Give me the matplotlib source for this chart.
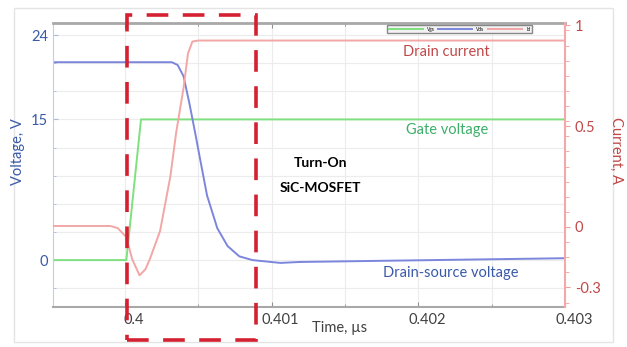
import matplotlib
matplotlib.use("Agg")
import matplotlib.pyplot as plt
import matplotlib.transforms as mtransforms
from matplotlib.patches import Rectangle
from matplotlib.ticker import MultipleLocator, FixedLocator

# time axis, microseconds
t_vgs = [0.39951, 0.40001, 0.40011, 0.403]
vgs = [0, 0, 15, 15]

t_vds = [0.39951, 0.40032, 0.40036, 0.40040, 0.40044, 0.40048, 0.40051, 0.40056,
         0.40063, 0.40070, 0.40078, 0.40087, 0.40106, 0.40119, 0.403]
vds = [21.1, 21.1, 20.8, 19.6, 16.7, 13.5, 11.0, 6.9,
       3.4, 1.5, 0.4, 0.0, -0.3, -0.2, 0.2]

t_id = [0.39951, 0.39990, 0.39995, 0.40001, 0.40005, 0.40010, 0.40014, 0.40017,
        0.40024, 0.40031, 0.40035, 0.40040, 0.40043, 0.40046, 0.40050, 0.403]
i_d = [0.005, 0.005, -0.005, -0.05, -0.16, -0.24, -0.21, -0.16,
       -0.02, 0.25, 0.47, 0.69, 0.86, 0.92, 0.925, 0.925]

x_ticks = [0.4, 0.401, 0.402, 0.403]
x_labels = ["0.4", "0.401", "0.402", "0.403"]
v_ticks = [0, 15, 24]
i_ticks = [-0.3, 0, 0.5, 1]
i_labels = ["-0.3", "0", "0.5", "1"]

BLUE = "#7b86dc"
GREEN = "#7fe07f"
RED = "#f2a6a6"
FS = 10.5

plt.rcParams["font.family"] = ["Lato", "DejaVu Sans"]


def main():
    fig = plt.figure(figsize=(6.27, 3.47), dpi=100)
    ax = fig.add_axes([0.0845, 0.1153, 0.8166, 0.8184])
    ax2 = ax.twinx()

    # faint frame round the whole picture
    fig.add_artist(Rectangle((14 / 627, 5 / 347), 599 / 627, 334 / 347,
                             transform=fig.transFigure, fill=False,
                             edgecolor="#e4e4e4", lw=1))

    ax.plot(t_vgs, vgs, color=GREEN, lw=1.4, label="Vgs")
    ax.plot(t_vds, vds, color=BLUE, lw=1.4, label="Vds")
    ax2.plot(t_id, i_d, color=RED, lw=1.4, label="Id")

    ax.set_xlim(0.39951, 0.403)
    ax.set_ylim(-5.0, 25.28)
    ax2.set_ylim(-0.397, 1.012)

    ax.xaxis.set_major_locator(FixedLocator(x_ticks))
    ax.set_xticklabels(x_labels)
    ax.xaxis.set_minor_locator(MultipleLocator(0.0005))
    ax.yaxis.set_major_locator(FixedLocator(v_ticks))
    ax.yaxis.set_minor_locator(MultipleLocator(3))
    ax2.yaxis.set_major_locator(FixedLocator(i_ticks))
    ax2.set_yticklabels(i_labels)
    ax2.yaxis.set_minor_locator(MultipleLocator(0.075))

    ax.grid(True, which="both", color="#ececec", lw=0.8)
    ax.set_axisbelow(True)

    ax.tick_params(axis="x", which="both", direction="in", top=True,
                   colors="#909090", labelcolor="#404040", labelsize=FS, pad=4)
    ax.tick_params(axis="y", which="both", direction="in",
                   colors="#b0b8d8", labelcolor="#3a5aa8", labelsize=FS)
    ax2.tick_params(axis="y", which="both", direction="out",
                    colors="#f0a0a0", labelcolor="#c04848", labelsize=FS)
    ax2.tick_params(axis="y", which="minor", length=3)

    offset = mtransforms.ScaledTranslation(9 / 100, 0, fig.dpi_scale_trans)
    for lab in ax.get_xticklabels():
        lab.set_transform(lab.get_transform() + offset)

    for s in ["top", "bottom"]:
        ax.spines[s].set_color("#a8a8a8")
        ax2.spines[s].set_visible(False)
    ax.spines["top"].set_linewidth(2)
    ax.spines["bottom"].set_linewidth(1.5)
    ax.spines["left"].set_color("#c8cce0")
    ax.spines["right"].set_visible(False)
    ax2.spines["left"].set_visible(False)
    ax2.spines["right"].set_color("#f4a8a8")
    ax2.spines["right"].set_linewidth(1.5)

    fig.text(18 / 627, 1 - 152 / 347, "Voltage, V", rotation=90, color="#3a5aa8",
             fontsize=FS, ha="center", va="center")
    fig.text(616 / 627, 1 - 150 / 347, "Current, A", rotation=270, color="#c04848",
             fontsize=FS, ha="center", va="center")
    fig.text(340 / 627, 1 - 328 / 347, "Time, \u00b5s", color="#404040",
             fontsize=FS, ha="center", va="center")

    fig.text(446 / 627, 1 - 52 / 347, "Drain current", color="#c04848",
             fontsize=FS, ha="center", va="center")
    fig.text(447 / 627, 1 - 130 / 347, "Gate voltage", color="#3cae6a",
             fontsize=FS, ha="center", va="center")
    fig.text(451 / 627, 1 - 273 / 347, "Drain-source voltage", color="#3a5aa8",
             fontsize=FS, ha="center", va="center")
    fig.text(321 / 627, 1 - 163 / 347, "Turn-On", color="black",
             fontsize=10, fontweight="bold", ha="center", va="center")
    fig.text(320 / 627, 1 - 188 / 347, "SiC-MOSFET", color="black",
             fontsize=10, fontweight="bold", ha="center", va="center")

    h1, l1 = ax.get_legend_handles_labels()
    h2, l2 = ax2.get_legend_handles_labels()
    leg = ax2.legend(h1 + h2, l1 + l2, ncol=3, loc="upper right",
                     bbox_to_anchor=(0.94, 1.0), fontsize=3.5,
                     handlelength=7, columnspacing=0.8, borderpad=0.3,
                     fancybox=False, framealpha=1, edgecolor="#888888",
                     facecolor="#f2f2f2")
    leg.get_frame().set_linewidth(1)

    # dashed red box round the switching event
    fig.add_artist(Rectangle((127 / 627, 1 - 340 / 347), 129 / 627, 325 / 347,
                             transform=fig.transFigure, fill=False,
                             edgecolor="#d42030", lw=2.6, linestyle=(0, (6, 4))))

    fig.savefig("out.png", dpi=100)


if __name__ == "__main__":
    main()
